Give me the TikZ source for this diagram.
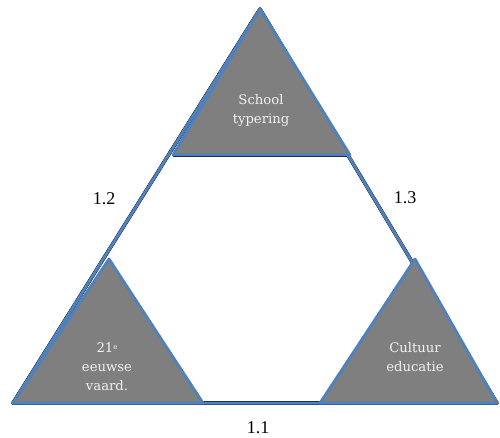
\documentclass[tikz,border=0pt]{standalone}
\usepackage{fontspec}
\setmainfont{Liberation Serif}
\newfontfamily\boxfont{DejaVu Serif}
\definecolor{offblue}{HTML}{4F81BD}
\definecolor{tgrey}{HTML}{7F7F7F}
\definecolor{tlight}{HTML}{F2F2F2}
\begin{document}
\begin{tikzpicture}[x=1pt,y=-1pt,
  shadowline/.style={draw=black,line width=3.6pt,line join=round},
  corner/.style={fill=tgrey,draw=offblue,line width=2.8pt,line join=round},
  frame/.style={draw=offblue,line width=3pt,line join=round},
  intext/.style={text=tlight,font=\boxfont\fontsize{13.2}{19}\selectfont,align=center},
  lbl/.style={font=\fontsize{18}{20}\selectfont,text=black}]
\useasboundingbox (0,0) rectangle (500,437);
% coordinates
\coordinate (A) at (260,9);
\coordinate (L) at (13,403);
\coordinate (R) at (497,403);
\coordinate (TL) at (173,155);
\coordinate (TR) at (350,155);
\coordinate (LA) at (109,259);
\coordinate (LB) at (203,403);
\coordinate (RA) at (415,259);
\coordinate (RB) at (320,403);
% shadow
\begin{scope}[shift={(1.2,4.2)}]
  \draw[shadowline] (A) -- (L) -- (R) -- cycle;
  \draw[shadowline] (TL) -- (TR);
\end{scope}
\draw[draw=black,line width=1.2pt] (LA) ++(1,1) -- (LB);
\draw[draw=black,line width=1.2pt] (RA) ++(-1,1) -- (RB);
% frame
\draw[frame] (A) -- (L) -- (R) -- cycle;
% corner triangles
\draw[corner] (A) -- (TL) -- (TR) -- cycle;
\draw[corner] (LA) -- (L) -- (LB) -- cycle;
\draw[corner] (RA) -- (RB) -- (R) -- cycle;
% texts
\node[intext] (t1) at (261,110) {School\\typering};
\node[intext] (t2) at (107,367) {21\raisebox{0.5ex}{\fontsize{7}{8}\selectfont e}\\eeuwse\\vaard.};
\node[intext] (t3) at (415,357) {Cultuur\\educatie};
\node[lbl] (l2) at (104,199) {1.2};
\node[lbl] (l3) at (405,198) {1.3};
\node[lbl] (l1) at (258,428) {1.1};
\end{tikzpicture}
\end{document}
